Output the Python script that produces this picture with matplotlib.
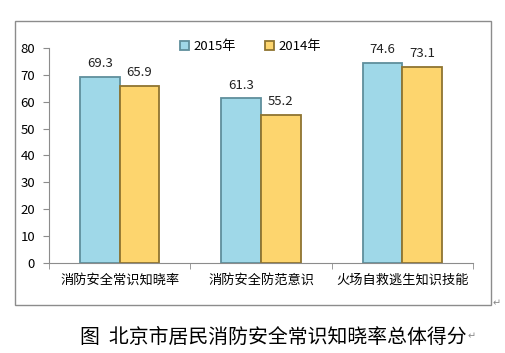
import matplotlib.pyplot as plt
import matplotlib.patches as mpatches
import numpy as np

plt.rcParams['font.family'] = ['Noto Sans CJK SC', 'DejaVu Sans']

categories = ['消防安全常识知晓率', '消防安全防范意识', '火场自救逃生知识技能']
scores_2015 = [69.3, 61.3, 74.6]
scores_2014 = [65.9, 55.2, 73.1]
series_names = ['2015年', '2014年']
yticks = [0, 10, 20, 30, 40, 50, 60, 70, 80]

fig = plt.figure(figsize=(5.05, 3.53), dpi=100)

# outer chart frame
frame = mpatches.Rectangle((0.030, 0.136), 0.942, 0.805, transform=fig.transFigure,
                           fill=False, edgecolor='#8c8c8c', linewidth=1.0)
fig.patches.append(frame)

ax = fig.add_axes([0.097, 0.255, 0.840, 0.609])

x = np.arange(len(categories))
w = 0.28
b1 = ax.bar(x - w / 2, scores_2015, w, color='#9fd8e8', edgecolor='#5f8f9c',
            linewidth=1.3, label=series_names[0])
b2 = ax.bar(x + w / 2, scores_2014, w, color='#fdd56e', edgecolor='#8f7430',
            linewidth=1.3, label=series_names[1])

for bars in (b1, b2):
    for r in bars:
        ax.text(r.get_x() + r.get_width() / 2, r.get_height() + 2.5,
                '%.1f' % r.get_height(), ha='center', va='bottom', fontsize=9.5, color='#222222')

ax.set_xlim(-0.5, len(categories) - 0.5)
ax.set_ylim(0, 80)
ax.set_yticks(yticks)
ax.set_xticks(x)
ax.set_xticklabels(categories, fontsize=9.5)
ax.set_xticks(np.arange(len(categories) + 1) - 0.5, minor=True)
ax.tick_params(axis='x', which='major', length=0, pad=8)
ax.tick_params(axis='x', which='minor', length=4, color='#8c8c8c')
ax.tick_params(axis='y', length=4, color='#8c8c8c', labelsize=9.5, pad=6)
for s in ['top', 'right']:
    ax.spines[s].set_visible(False)
for s in ['left', 'bottom']:
    ax.spines[s].set_color('#8c8c8c')

ax.legend(loc='center', bbox_to_anchor=(0.475, 1.005), ncol=2, frameon=False,
          fontsize=9.5, handlelength=0.7, handleheight=0.7, columnspacing=2.2, handletextpad=0.3)

fig.text(0.975, 0.14, '↵', fontsize=7, color='#888888', ha='left', va='center')
fig.text(0.158, 0.045, '图  北京市居民消防安全常识知晓率总体得分', fontsize=14.3,
         ha='left', va='center', color='black')
fig.text(0.925, 0.048, '↵', fontsize=7, color='#888888', ha='left', va='center')

fig.savefig('out.png', dpi=100)
